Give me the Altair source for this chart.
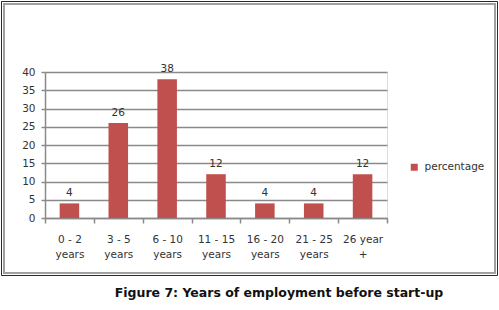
import altair as alt
import pandas as pd

categories = ["0 - 2|years", "3 - 5|years", "6 - 10|years", "11 - 15|years",
              "16 - 20|years", "21 - 25|years", "26 year|+"]
values = [4, 26, 38, 12, 4, 4, 12]
series_name = "percentage"
y_ticks = [0, 5, 10, 15, 20, 25, 30, 35, 40]
caption = "Figure 7: Years of employment before start-up"

df = pd.DataFrame({"cat": categories, "val": values, "series": [series_name] * len(values)})

FONT = "DejaVu Sans"
BAR = "#C0504D"
GRID = "#8a8a8a"
TXT = "#333333"

PL, PT, W, H = 45, 72, 342, 146

one = pd.DataFrame({"k": [0]})

outer = alt.Chart(one).mark_rect(fill=None, stroke="#2a2a2a", strokeWidth=1).encode(
    x=alt.value(1.5 - PL), x2=alt.value(497.5 - PL),
    y=alt.value(1.5 - PT), y2=alt.value(275.5 - PT))
inner = alt.Chart(one).mark_rect(fill=None, stroke="#a0a0a0", strokeWidth=2).encode(
    x=alt.value(4 - PL), x2=alt.value(495 - PL),
    y=alt.value(4 - PT), y2=alt.value(273 - PT))

xenc = alt.X("cat:N", sort=None, title=None,
             scale=alt.Scale(paddingInner=0, paddingOuter=0),
             axis=alt.Axis(labelExpr="datum.value ? split(datum.value, '|') : ''", labelAngle=0,
                           tickBand="extent", tickSize=5, tickColor=GRID, tickWidth=1.5,
                           domainColor=GRID, domainWidth=1.5, labelPadding=11,
                           labelLineHeight=15, labelFont=FONT, labelFontSize=10.5,
                           labelColor=TXT, grid=False, labelOverlap=False))
yenc = alt.Y("val:Q", title=None,
             scale=alt.Scale(domain=[0, 40], nice=False),
             axis=alt.Axis(values=y_ticks, tickSize=4, tickColor=GRID, tickWidth=1.5,
                           domainColor=GRID, domainWidth=1.5, gridColor=GRID, gridWidth=1.6,
                           labelPadding=6, labelFont=FONT, labelFontSize=10.5, labelColor=TXT,
                           labelOverlap=False))

bars = alt.Chart(df).mark_bar(width=alt.RelativeBandSize(0.4)).encode(
    x=xenc, y=yenc,
    color=alt.Color("series:N", title=None,
                    scale=alt.Scale(range=[BAR]),
                    legend=alt.Legend(orient="none", legendX=364, legendY=90,
                                      symbolType="square", symbolSize=49,
                                      symbolStrokeWidth=0, labelFont=FONT,
                                      labelFontSize=10.5, labelColor=TXT,
                                      labelOffset=5, padding=0)))

labels = alt.Chart(df).mark_text(baseline="bottom", dy=-5, font=FONT, fontSize=10.5,
                                 color=TXT).encode(
    x=xenc, y=yenc, text="val:Q")

cap = alt.Chart(one).mark_text(font="DejaVu Sans", fontSize=12.5, fontWeight="bold",
                               color="#111111", align="center", baseline="middle").encode(
    x=alt.value(279 - PL), y=alt.value(293 - PT), text=alt.value(caption))

chart = alt.layer(outer, inner, bars, labels, cap).properties(
    width=W, height=H,
    autosize=alt.AutoSizeParams(type="none"),
    padding={"left": PL, "top": PT, "right": 499 - PL - W, "bottom": 310 - PT - H},
).configure_view(stroke=None).configure(background="white")

chart.save("out.html", embed_options={"renderer": "svg", "actions": False})
